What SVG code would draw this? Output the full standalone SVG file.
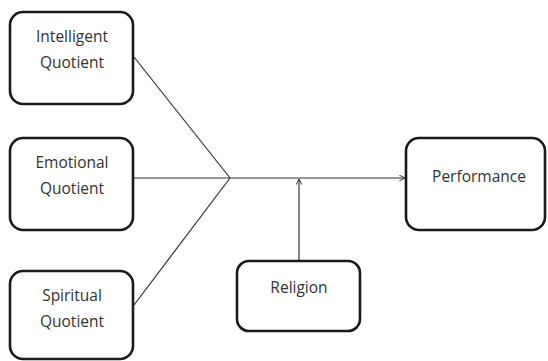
<svg xmlns="http://www.w3.org/2000/svg" width="548" height="361" viewBox="0 0 548 361">
<defs>
<style>
.box{fill:#fff;stroke:#1a1a1a;stroke-width:2.6}
.t{font-family:"Open Sans","Liberation Sans",sans-serif;font-size:15.5px;fill:#333;text-anchor:middle}
.c{stroke:#333;stroke-width:1.2;fill:none}
</style>
<marker id="ah" viewBox="0 0 10 10" refX="9" refY="5" markerWidth="7" markerHeight="7" orient="auto" markerUnits="userSpaceOnUse">
<path d="M1,1 L9,5 L1,9" fill="none" stroke="#333" stroke-width="1.4"/>
</marker>
</defs>
<rect width="548" height="361" fill="#fff"/>
<g id="connectors">
<line class="c" x1="134" y1="57" x2="230" y2="178"/>
<line class="c" x1="134" y1="305" x2="230" y2="178"/>
<line class="c" x1="134" y1="178" x2="230" y2="178"/>
<line class="c" x1="230" y1="178" x2="405" y2="178" marker-end="url(#ah)"/>
<line class="c" x1="299" y1="261" x2="299" y2="179" marker-end="url(#ah)"/>
</g>
<g id="iq">
<rect class="box" x="10" y="12" width="123" height="92" rx="13"/>
<text class="t" x="72" y="42">Intelligent</text>
<text class="t" x="72" y="68">Quotient</text>
</g>
<g id="eq">
<rect class="box" x="10" y="138" width="123" height="92" rx="13"/>
<text class="t" x="72" y="168">Emotional</text>
<text class="t" x="72" y="194">Quotient</text>
</g>
<g id="sq">
<rect class="box" x="10" y="271" width="123" height="88" rx="13"/>
<text class="t" x="72" y="301">Spiritual</text>
<text class="t" x="72" y="327">Quotient</text>
</g>
<g id="performance">
<rect class="box" x="406" y="138" width="139" height="92" rx="13"/>
<text class="t" x="479" y="182">Performance</text>
</g>
<g id="religion">
<rect class="box" x="237" y="261" width="123" height="70" rx="12"/>
<text class="t" x="299" y="293">Religion</text>
</g>
</svg>
